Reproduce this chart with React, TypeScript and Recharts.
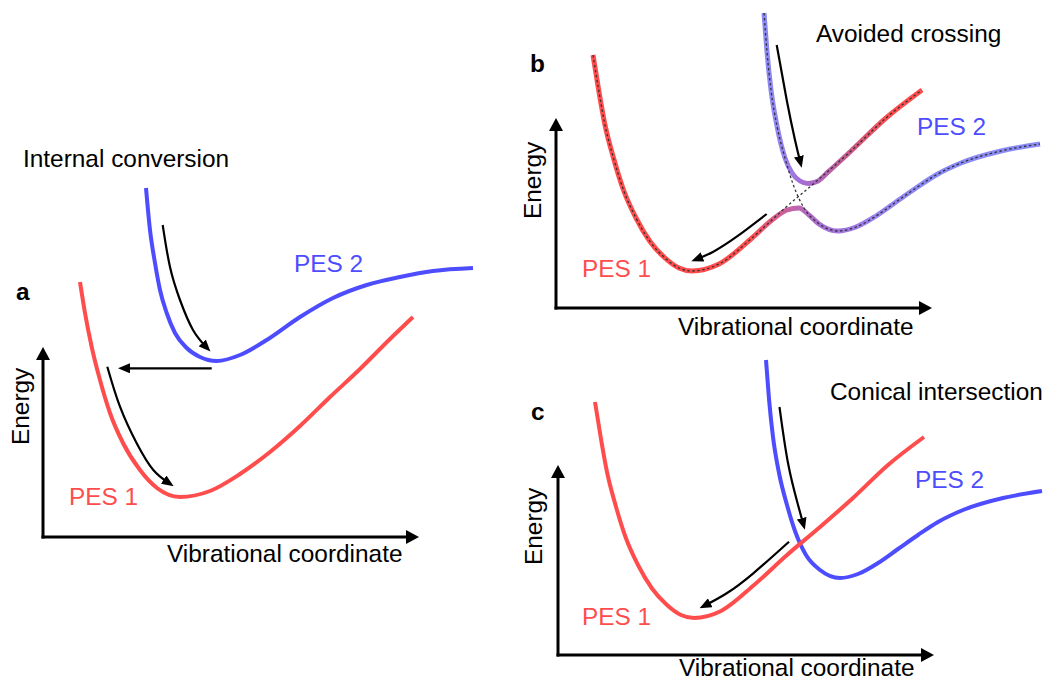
import React from 'react';
import { LineChart, Line, XAxis, YAxis } from 'recharts';

const RED = '#ff4d4d';
const BLUE = '#4d4dff';
const LAVENDER = '#8a8af5';

// Energy curves, x = vibrational coordinate, y = energy (arbitrary units,
// origin at the corner of each panel's axes).
const pes1Internal = [
  { x: 37, y: 255 }, { x: 42, y: 224 }, { x: 48.7, y: 190 }, { x: 57, y: 157 },
  { x: 67, y: 124 }, { x: 80, y: 94 }, { x: 97, y: 67 }, { x: 114, y: 49 },
  { x: 137, y: 40 }, { x: 167, y: 46 }, { x: 197, y: 63 }, { x: 227, y: 85 },
  { x: 257, y: 111 }, { x: 287, y: 140 }, { x: 317, y: 168 }, { x: 347, y: 198 },
  { x: 370, y: 220 },
];
const pes2Internal = [
  { x: 103, y: 349 }, { x: 107, y: 307 }, { x: 112, y: 274 }, { x: 117, y: 247 },
  { x: 123.7, y: 224 }, { x: 132, y: 204 }, { x: 143.7, y: 189 }, { x: 157, y: 180 },
  { x: 173.7, y: 176 }, { x: 197, y: 182 }, { x: 223.7, y: 197 }, { x: 257, y: 220 },
  { x: 290, y: 239 }, { x: 323.7, y: 252 }, { x: 357, y: 260 }, { x: 390, y: 266 },
  { x: 430, y: 269 },
];

// diabatic surfaces shared by the avoided-crossing and conical-intersection panels
const diabatic1 = [
  { x: 37, y: 253 }, { x: 43, y: 216 }, { x: 49, y: 183 }, { x: 57.5, y: 150 },
  { x: 67.5, y: 118 }, { x: 80, y: 90 }, { x: 94, y: 66.5 }, { x: 109, y: 50 },
  { x: 123, y: 40 }, { x: 136, y: 37 }, { x: 163, y: 44 }, { x: 196, y: 70 },
  { x: 229, y: 100 }, { x: 262, y: 128 }, { x: 295, y: 157 }, { x: 330, y: 190 },
  { x: 366, y: 218 },
];
const diabatic2 = [
  { x: 208, y: 295 }, { x: 211, y: 256 }, { x: 215, y: 218 }, { x: 221, y: 182 },
  { x: 229, y: 150 }, { x: 237, y: 124 }, { x: 248, y: 100 }, { x: 262, y: 85 },
  { x: 282, y: 77 }, { x: 300, y: 81 }, { x: 320, y: 92 }, { x: 340, y: 106 },
  { x: 360, y: 120 }, { x: 380, y: 133 }, { x: 405, y: 145 }, { x: 445, y: 157 },
  { x: 484, y: 164 },
];

// adiabatic surfaces around the avoided crossing
const lowerAdiabatic = [
  { x: 37, y: 253 }, { x: 43, y: 216 }, { x: 49, y: 183 }, { x: 57.5, y: 150 },
  { x: 67.5, y: 118 }, { x: 80, y: 90 }, { x: 94, y: 66.5 }, { x: 109, y: 50 },
  { x: 123, y: 40 }, { x: 136, y: 37 }, { x: 163, y: 44 }, { x: 196, y: 70 },
  { x: 216, y: 88 }, { x: 231, y: 98 }, { x: 243, y: 100 }, { x: 253, y: 93 },
  { x: 263, y: 84 }, { x: 282, y: 77 }, { x: 300, y: 81 }, { x: 320, y: 92 },
  { x: 340, y: 106 }, { x: 360, y: 120 }, { x: 380, y: 133 }, { x: 405, y: 145 },
  { x: 445, y: 157 }, { x: 484, y: 164 },
];
const upperAdiabatic = [
  { x: 208, y: 295 }, { x: 211, y: 256 }, { x: 215, y: 218 }, { x: 221, y: 182 },
  { x: 229, y: 150 }, { x: 236, y: 135 }, { x: 244, y: 127 }, { x: 252, y: 124.5 },
  { x: 261, y: 126.5 }, { x: 272, y: 136 }, { x: 295, y: 157 }, { x: 330, y: 190 },
  { x: 366, y: 218 },
];

// relaxation arrows
const slideDownPes2 = [{ x: 119.7, y: 312 }, { x: 127, y: 270 }, { x: 137, y: 237 }, { x: 150, y: 207 }, { x: 164, y: 189 }];
const hopToPes1 = [{ x: 168.7, y: 168.7 }, { x: 80, y: 168.7 }];
const slideDownPes1 = [{ x: 64.3, y: 170.3 }, { x: 77, y: 130.3 }, { x: 93.7, y: 93.7 }, { x: 110.3, y: 67 }, { x: 126.5, y: 53.5 }];
const avoidedIn = [{ x: 220.7, y: 263 }, { x: 230.7, y: 208 }, { x: 239, y: 168 }, { x: 244.5, y: 145 }];
const avoidedOut = [{ x: 210.7, y: 94 }, { x: 180.7, y: 71.3 }, { x: 157.3, y: 56.3 }, { x: 140, y: 48.5 }];
const conicalIn = [{ x: 221.5, y: 248 }, { x: 230, y: 192 }, { x: 239.5, y: 152 }, { x: 245.5, y: 130 }];
const conicalOut = [{ x: 231, y: 113.3 }, { x: 195.3, y: 81.7 }, { x: 168.7, y: 61.7 }, { x: 146, y: 49 }];

const energyAxis = [{ x: 0, y: -1.5 }, { x: 0, y: 186 }];
const coordAxis = [{ x: -1.5, y: 0 }, { x: 372, y: 0 }];

function Markers({ id }: { id: string }) {
  return (
    <defs>
      <marker id={`${id}-axis`} markerWidth={13} markerHeight={14} refX={9} refY={7} orient="auto" markerUnits="userSpaceOnUse">
        <path d="M0,0 L13,7 L0,14 z" fill="#000" />
      </marker>
      <marker id={`${id}-head`} markerWidth={12} markerHeight={10} refX={7} refY={5} orient="auto" markerUnits="userSpaceOnUse">
        <path d="M0,0 L12,5 L0,10 z" fill="#000" />
      </marker>
    </defs>
  );
}

function Axes({ id }: { id: string }) {
  return (
    <>
      <Line data={energyAxis} dataKey="y" type="linear" stroke="#000" strokeWidth={3} dot={false} isAnimationActive={false} markerEnd={`url(#${id}-axis)`} />
      <Line data={coordAxis} dataKey="y" type="linear" stroke="#000" strokeWidth={3} dot={false} isAnimationActive={false} markerEnd={`url(#${id}-axis)`} />
    </>
  );
}

function Arrow({ id, data }: { id: string; data: { x: number; y: number }[] }) {
  return <Line data={data} dataKey="y" type="natural" stroke="#000" strokeWidth={2.2} dot={false} isAnimationActive={false} markerEnd={`url(#${id}-head)`} />;
}

function Panel({ left, top, xDomain, yDomain, children }: any) {
  const width = xDomain[1] - xDomain[0];
  const height = yDomain[1] - yDomain[0];
  return (
    <div style={{ position: 'absolute', left, top }}>
      <LineChart width={width} height={height} margin={{ top: 0, right: 0, bottom: 0, left: 0 }}>
        <XAxis type="number" dataKey="x" domain={xDomain} hide allowDataOverflow />
        <YAxis type="number" domain={yDomain} hide allowDataOverflow />
        {children}
      </LineChart>
    </div>
  );
}

export default function App() {
  return (
    <div style={{ position: 'absolute', left: 0, top: 0, width: 1047, height: 682, background: '#fff', overflow: 'hidden' }}>
      {/* a: internal conversion */}
      <Panel left={0} top={167} xDomain={[-43, 450]} yDomain={[-30, 370]}>
        <Markers id="a" />
        <Axes id="a" />
        <Line data={pes1Internal} dataKey="y" type="monotone" stroke={RED} strokeWidth={4} dot={false} isAnimationActive={false} />
        <Line data={pes2Internal} dataKey="y" type="monotone" stroke={BLUE} strokeWidth={4} dot={false} isAnimationActive={false} />
        <Arrow id="a" data={slideDownPes2} />
        <Arrow id="a" data={hopToPes1} />
        <Arrow id="a" data={slideDownPes1} />
      </Panel>

      {/* b: avoided crossing */}
      <Panel left={536} top={3} xDomain={[-20, 490]} yDomain={[-25, 305]}>
        <Markers id="b" />
        <defs>
          <linearGradient id="lowerGrad" x1="0" y1="0" x2="1" y2="0">
            <stop offset="0" stopColor={RED} />
            <stop offset="0.35" stopColor={RED} />
            <stop offset="0.44" stopColor="#c462a6" />
            <stop offset="0.51" stopColor="#a571d6" />
            <stop offset="0.63" stopColor="#9a82ee" />
            <stop offset="0.75" stopColor={LAVENDER} />
            <stop offset="1" stopColor={LAVENDER} />
          </linearGradient>
          <linearGradient id="upperGrad" x1="0" y1="0" x2="1" y2="0">
            <stop offset="0" stopColor={LAVENDER} />
            <stop offset="0.11" stopColor="#9585ef" />
            <stop offset="0.23" stopColor="#a56fd8" />
            <stop offset="0.36" stopColor="#b065b5" />
            <stop offset="0.58" stopColor="#d05a80" />
            <stop offset="0.8" stopColor={RED} />
            <stop offset="1" stopColor={RED} />
          </linearGradient>
        </defs>
        <Axes id="b" />
        <Line data={lowerAdiabatic} dataKey="y" type="monotone" stroke="url(#lowerGrad)" strokeWidth={5} dot={false} isAnimationActive={false} />
        <Line data={upperAdiabatic} dataKey="y" type="monotone" stroke="url(#upperGrad)" strokeWidth={5} dot={false} isAnimationActive={false} />
        <Line data={diabatic1} dataKey="y" type="monotone" stroke="#333" strokeWidth={1.3} strokeDasharray="2.5 2.5" dot={false} isAnimationActive={false} />
        <Line data={diabatic2} dataKey="y" type="monotone" stroke="#333" strokeWidth={1.3} strokeDasharray="2.5 2.5" dot={false} isAnimationActive={false} />
        <Arrow id="b" data={avoidedIn} />
        <Arrow id="b" data={avoidedOut} />
      </Panel>

      {/* c: conical intersection */}
      <Panel left={538} top={350} xDomain={[-20, 489]} yDomain={[-25, 305]}>
        <Markers id="c" />
        <Axes id="c" />
        <Line data={diabatic2} dataKey="y" type="monotone" stroke={BLUE} strokeWidth={4} dot={false} isAnimationActive={false} />
        <Line data={diabatic1} dataKey="y" type="monotone" stroke={RED} strokeWidth={4} dot={false} isAnimationActive={false} />
        <Arrow id="c" data={conicalIn} />
        <Arrow id="c" data={conicalOut} />
      </Panel>

      <svg width={1047} height={682} style={{ position: 'absolute', left: 0, top: 0, pointerEvents: 'none' }}
        fontFamily="'Liberation Sans', Arial, sans-serif" fontSize={24.4} fill="#000">
        <text x={23} y={167}>Internal conversion</text>
        <text x={16} y={300} fontWeight="bold">a</text>
        <text x={294} y={272} fill={BLUE}>PES 2</text>
        <text x={69} y={505} fill={RED}>PES 1</text>
        <text transform="translate(29,445) rotate(-90)">Energy</text>
        <text x={167} y={562}>Vibrational coordinate</text>

        <text x={816} y={42}>Avoided crossing</text>
        <text x={530} y={72} fontWeight="bold">b</text>
        <text x={917} y={135} fill={BLUE}>PES 2</text>
        <text x={582} y={277} fill={RED}>PES 1</text>
        <text transform="translate(541,219) rotate(-90)">Energy</text>
        <text x={678} y={335}>Vibrational coordinate</text>

        <text x={830} y={400}>Conical intersection</text>
        <text x={531} y={420} fontWeight="bold">c</text>
        <text x={915} y={488} fill={BLUE}>PES 2</text>
        <text x={582} y={625} fill={RED}>PES 1</text>
        <text transform="translate(542,565) rotate(-90)">Energy</text>
        <text x={679} y={676}>Vibrational coordinate</text>
      </svg>
    </div>
  );
}
